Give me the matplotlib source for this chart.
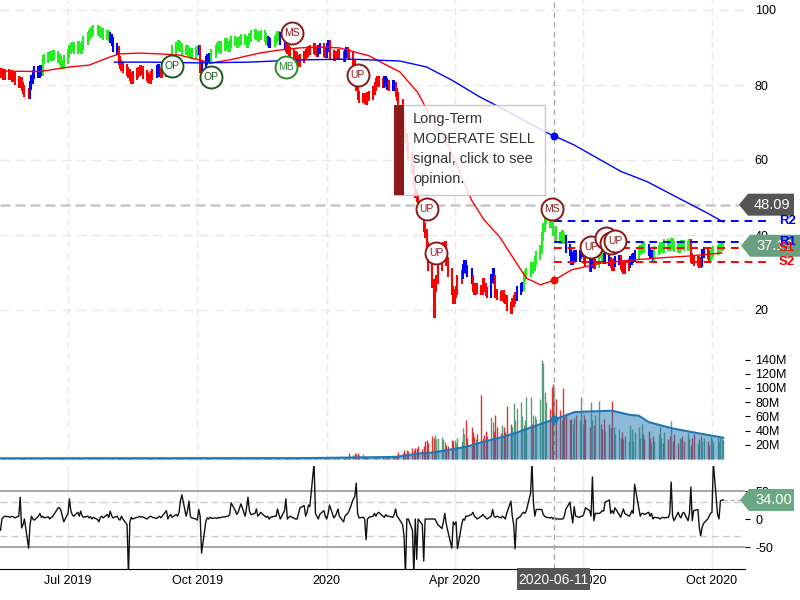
import numpy as np
import pandas as pd
import matplotlib
matplotlib.use('Agg')
import matplotlib.pyplot as plt
import matplotlib.dates as mdates
from matplotlib.patches import Polygon, Rectangle

plt.rcParams['font.family'] = ['Liberation Sans', 'DejaVu Sans']

# ---------------- data ----------------
start_date = '2019-05-14'

close = [
    83.2, 83.0, 82.6, 83.1, 82.4, 82.8, 81.9, 82.3, 81.2, 80.5,
    80.9, 79.6, 78.8, 78.0, 77.4, 79.8, 81.5, 82.8, 83.8, 83.2,
    84.0, 83.5, 86.7, 87.0, 87.5, 88.0, 87.5, 88.2, 88.0, 87.0,
    86.4, 85.6, 85.5, 86.8, 88.5, 89.5, 90.0, 90.3, 89.6, 90.4,
    90.0, 89.5, 90.6, 92.0, 93.0, 93.6, 94.0, 94.6, 94.8, 94.2,
    94.5, 93.7, 93.9, 93.2, 93.6, 93.0, 92.5, 91.5, 90.0, 89.3,
    86.5, 85.5, 85.0, 84.3, 83.6, 83.0, 82.2, 81.5, 82.4, 83.2,
    83.6, 84.2, 83.8, 82.7, 82.3, 81.8, 81.6, 82.5, 83.1, 84.0,
    84.3, 83.4, 83.0, 83.4, 83.9, 84.4, 84.8, 87.0, 89.5, 90.2,
    90.8, 90.4, 90.0, 89.3, 89.6, 89.0, 88.4, 88.7, 88.2, 88.9,
    89.2, 89.5, 84.5, 85.5, 86.5, 87.0, 87.3, 86.8, 88.5, 89.5,
    90.1, 90.5, 89.6, 90.4, 91.2, 90.6, 90.0, 91.0, 92.0, 91.6,
    91.0, 91.5, 92.0, 92.5, 92.0, 91.2, 92.0, 92.8, 93.5, 93.8,
    93.2, 92.8, 93.3, 93.5, 92.8, 92.0, 91.5, 91.0, 91.3, 92.0,
    92.5, 93.3, 93.0, 91.8, 90.7, 89.9, 89.4, 88.9, 88.5, 88.0,
    87.5, 86.8, 86.1, 87.0, 88.0, 88.5, 88.8, 89.2, 89.5, 89.9,
    89.3, 88.8, 89.6, 89.9, 88.8, 88.5, 90.0, 90.7, 88.2, 87.5,
    87.8, 88.0, 88.5, 88.0, 87.4, 88.5, 89.0, 88.4, 88.0, 85.5,
    81.5, 79.5, 77.3, 76.5, 76.8, 76.2, 76.0, 77.0, 77.3, 78.5,
    79.5, 80.8, 81.2, 80.6, 80.5, 81.3, 80.6, 80.0, 79.5, 80.2,
    79.6, 78.1, 77.0, 75.0, 71.5, 68.0, 66.0, 63.5, 61.0, 57.5,
    53.5, 51.0, 50.0, 47.5, 46.0, 42.0, 40.5, 36.8, 31.5, 27.0,
    19.0, 26.0, 28.0, 31.5, 35.2, 36.8, 37.2, 33.0, 30.0, 25.3,
    22.7, 24.5, 25.3, 28.0, 29.5, 31.0, 32.0, 30.8, 30.0, 28.0,
    26.0, 25.3, 26.0, 25.5, 25.3, 27.2, 26.0, 25.0, 24.5, 28.5,
    30.0, 28.0, 24.5, 23.8, 23.5, 24.2, 23.0, 22.7, 20.8, 20.0,
    21.9, 22.8, 23.5, 25.3, 26.0, 26.2, 28.8, 29.5, 30.0, 31.5,
    30.7, 31.5, 33.3, 34.5, 36.0, 39.5, 42.1, 44.0, 44.5, 43.0,
    42.7, 41.0, 41.3, 39.5, 38.7, 40.0, 39.2, 38.7, 36.5, 35.5,
    33.3, 34.2, 34.7, 34.0, 34.7, 35.3, 36.0, 33.5, 32.8, 31.2,
    32.5, 33.0, 32.0, 32.5, 35.5, 35.0, 33.9, 33.5, 33.8, 33.0,
    32.3, 31.7, 32.6, 33.3, 33.5, 31.8, 31.2, 30.8, 31.5, 32.3,
    33.3, 33.8, 34.1, 34.7, 35.8, 36.0, 37.1, 36.8, 36.5, 35.5,
    34.7, 34.7, 34.2, 35.8, 36.0, 36.8, 37.0, 36.5, 37.6, 37.0,
    36.8, 38.1, 37.3, 36.6, 36.5, 37.0, 37.5, 37.4, 36.8, 37.2,
    37.6, 34.0, 33.5, 33.0, 33.3, 32.5, 32.8, 35.0, 35.5, 34.7,
    34.2, 34.7, 35.3, 35.8, 36.0, 36.3, 36.8, 37.0, 37.1,
]

# trend colour of each bar: r = down, g = up, b = neutral
color_runs = [
    ('r', 15), ('b', 7), ('g', 34), ('b', 4), ('r', 19), ('b', 3), ('r', 5),
    ('g', 14), ('b', 1), ('r', 1), ('b', 5), ('g', 28), ('b', 3), ('g', 4),
    ('b', 2), ('r', 17), ('b', 2), ('r', 2), ('b', 2), ('r', 7), ('b', 2),
    ('r', 18), ('b', 3), ('r', 1), ('b', 2), ('r', 34), ('b', 5), ('r', 9),
    ('b', 3), ('r', 11), ('b', 3), ('g', 22), ('b', 9), ('r', 3), ('b', 2),
    ('r', 2), ('g', 3), ('b', 3), ('r', 3), ('b', 2), ('r', 5), ('b', 4),
    ('g', 5), ('b', 4), ('g', 18), ('r', 6), ('b', 2), ('r', 2), ('g', 8),
]

volume_m = [
    1.0, 0.8, 1.2, 0.9, 1.1, 1.0, 0.7, 1.3, 0.9, 1.0,
    1.1, 0.9, 1.2, 1.0, 0.8, 1.0, 1.1, 0.9, 1.2, 1.0,
    0.9, 1.1, 1.0, 0.8, 1.2, 1.0, 0.9, 1.1, 1.0, 0.8,
    1.0, 1.2, 0.9, 1.1, 1.0, 0.8, 1.3, 1.0, 0.9, 1.1,
    1.0, 0.9, 1.2, 1.0, 1.1, 0.8, 1.0, 1.2, 0.9, 1.0,
    1.1, 1.0, 0.9, 1.2, 1.0, 0.8, 1.1, 1.0, 1.3, 0.9,
    1.0, 1.1, 0.9, 1.0, 1.2, 0.8, 1.0, 1.1, 0.9, 1.0,
    1.2, 1.0, 0.9, 1.1, 1.0, 1.3, 0.8, 1.0, 1.1, 0.9,
    1.0, 1.2, 0.9, 1.0, 1.1, 1.0, 0.8, 1.2, 1.0, 0.9,
    1.1, 1.0, 1.2, 0.9, 1.0, 1.1, 0.8, 1.0, 1.2, 1.0,
    0.9, 1.1, 1.5, 1.0, 1.2, 0.9, 1.0, 1.1, 1.0, 0.8,
    1.0, 1.2, 0.9, 1.1, 1.0, 0.8, 1.2, 1.0, 0.9, 1.1,
    1.0, 0.9, 1.1, 1.2, 1.0, 0.8, 1.0, 1.1, 0.9, 1.0,
    1.2, 1.0, 0.9, 1.1, 1.0, 1.2, 0.9, 1.0, 1.1, 1.0,
    0.9, 1.1, 1.0, 1.3, 1.0, 0.9, 1.2, 1.0, 1.1, 0.9,
    1.0, 1.2, 1.0, 0.9, 1.1, 1.0, 1.3, 1.2, 1.0, 1.1,
    1.5, 1.2, 1.0, 2.5, 1.3, 1.1, 1.0, 1.2, 1.4, 1.2,
    1.3, 1.5, 1.2, 1.4, 1.6, 1.3, 1.5, 1.8, 8.0, 6.0,
    9.0, 7.0, 8.0, 6.0, 7.0, 4.0, 3.5, 3.0, 3.0, 2.5,
    3.0, 2.5, 2.5, 2.0, 2.5, 2.0, 2.0, 2.5, 3.0, 2.5,
    3.0, 4.0, 5.0, 10, 8, 12, 9, 13, 11, 15,
    12, 16, 15, 18, 14, 18, 25, 27, 22, 32,
    30, 34, 28, 30, 31, 28, 24, 20, 18, 27,
    25, 27, 22, 30, 26, 43, 35, 55, 30, 45,
    38, 31, 28, 35, 90, 30, 34, 40, 32, 59,
    52, 40, 62, 45, 36, 48, 45, 38, 74, 50,
    45, 79, 55, 72, 80, 60, 48, 55, 87, 87,
    50, 62, 60, 57, 85, 140, 135, 95, 80, 70,
    102, 105, 99, 85, 69, 55, 100, 60, 65, 55,
    57, 50, 58, 62, 55, 87, 50, 62, 57, 45,
    80, 55, 48, 62, 82, 50, 42, 57, 40, 50,
    44, 82, 45, 35, 42, 30, 38, 28, 33, 25,
    48, 42, 25, 38, 45, 30, 50, 35, 28, 40,
    30, 24, 32, 26, 35, 45, 30, 22, 38, 28,
    32, 54, 25, 35, 22, 30, 28, 33, 25, 37,
    28, 20, 30, 35, 22, 28, 33, 25, 30, 26,
    20, 32, 28, 24, 30, 25, 30, 28, 27,
]

oscillator = [
    -20, 0, 3, 5, 4, 3, 5, 4, 2, 5,
    39, -16, -10, 0, -52, -10, 5, 0, -2, 5,
    10, 3, 5, 2, 4, 0, 3, 4, 8, 20,
    20, 15, 5, -5, 10, 36, 15, 8, 5, 12,
    5, 14, 6, 3, 5, 2, 4, 0, 3, -1,
    -5, 3, 5, 2, 8, 3, 14, 6, 2, 5,
    0, -2, 5, 0, -10, -100, -5, 3, 0, 3,
    3, 5, 3, 4, 0, 2, 4, 5, 3, 1,
    3, 5, 2, 5, 15, 0, 5, 8, 3, 8,
    5, 12, 33, 43, 5, 15, 32, 5, 2, 0,
    -2, 17, 5, -61, -5, 2, 0, 3, 1, 2,
    1, 3, 2, 3, 4, 5, 5, 8, 29, 15,
    8, 12, 20, 27, 5, 20, 39, 15, 8, 10,
    18, 5, 8, 12, 5, 3, 5, 0, 3, 5,
    5, 18, 8, 0, 15, 36, 0, 3, 5, 1,
    0, 0, 10, 20, 24, 5, 12, 25, 22, 100,
    10, 5, 0, 8, 15, 5, 0, 10, 25, 2,
    5, 10, 18, 5, -5, 5, 8, 10, 15, 36,
    40, 64, 10, 2, 3, 0, -37, 0, 3, 5,
    10, 5, 10, 12, 5, 3, 8, 5, 5, 3,
    8, 18, 5, 2, -10, -30, -100, 0, 0, -20,
    -100, 0, -72, 0, -10, -75, 0, 0, 0, 0,
    0, 0, -5, -10, -17, -5, 10, -8, -20, -52,
    -5, -10, -5, -53, -10, 0, -2, 5, 5, 8,
    12, 5, 3, 0, 5, 8, 5, 3, 0, 5,
    17, 5, 3, 5, 2, 5, 3, 0, 10, 32,
    5, -10, -53, 0, 5, 10, 12, 10, 15, 46,
    100, 30, 5, 17, 17, 17, 8, 5, 3, 2,
    3, 0, 3, 0, 0, 0, 0, 5, 17, 30,
    10, -7, 22, 5, 3, 5, 5, 10, 20, 15,
    5, 75, -3, 10, 10, 12, 15, 14, 30, 34,
    10, 15, 10, 20, 8, 3, 10, 18, 10, 5,
    8, 15, 10, 62, 20, 5, 10, 10, 8, 12,
    5, 10, 0, 3, 2, 0, 2, 3, 2, 3,
    10, 66, 5, -3, 12, 5, 2, 10, 12, -3,
    10, 57, -3, 15, 17, -15, -30, -15, -8, 0,
    5, 10, 12, 100, 8, 0, 32, 34, 34,
]

red_ma_dates = ['2019-05-14', '2019-06-11', '2019-07-02', '2019-07-16', '2019-07-31',
                '2019-08-07', '2019-08-21', '2019-09-04', '2019-09-18', '2019-10-02',
                '2019-10-11', '2019-10-24', '2019-11-14', '2019-11-28', '2019-12-13',
                '2019-12-27', '2020-01-10', '2020-01-21', '2020-01-31', '2020-02-11',
                '2020-02-22', '2020-03-06', '2020-03-16', '2020-03-28', '2020-04-13',
                '2020-04-22', '2020-05-03', '2020-05-15', '2020-05-22',
                '2020-06-01', '2020-06-11', '2020-06-23', '2020-07-14', '2020-08-04',
                '2020-08-25', '2020-09-15', '2020-10-08']
red_ma_vals = [83.7, 83.6, 84.8, 85.3, 87.5, 88.3, 88.5, 88.3, 88.0, 86.7,
               85.9, 86.7, 88.5, 89.3, 89.9, 90.1, 89.9, 88.8, 87.8, 85.6,
               83.5, 77.9, 70.7, 63.5, 49.3, 44.0, 39.5, 32.5, 28.5,
               26.7, 28.0, 30.7, 32.5, 33.3, 33.9, 34.4, 35.2]

blue_ma_dates = ['2019-08-03', '2019-08-28', '2019-10-02', '2019-11-07', '2019-12-13',
                 '2020-01-17', '2020-02-22', '2020-03-12', '2020-03-30', '2020-04-19',
                 '2020-05-03', '2020-06-06', '2020-06-11', '2020-06-25', '2020-07-28',
                 '2020-08-16', '2020-09-10', '2020-09-26', '2020-10-09']
blue_ma_vals = [86.1, 86.1, 85.9, 86.1, 86.7, 86.9, 86.4, 84.8, 81.3, 76.8,
                74.1, 67.2, 66.4, 64.0, 57.0, 54.2, 49.3, 46.2, 43.5]

vol_ma_dates = ['2019-05-14', '2019-12-13', '2020-01-17', '2020-02-20', '2020-03-07',
                '2020-03-16', '2020-03-28', '2020-04-09', '2020-04-21', '2020-05-03',
                '2020-05-15', '2020-05-26', '2020-06-11', '2020-06-20', '2020-06-25',
                '2020-07-06', '2020-07-22', '2020-08-04', '2020-08-10', '2020-08-17',
                '2020-09-03', '2020-09-22', '2020-10-09']
vol_ma_vals = [1.0, 1.2, 2.0, 3.0, 8.0, 9.0, 13, 17, 24, 30, 37, 45, 56, 62, 66,
               67, 68, 62, 61, 52, 43, 36, 30]

# signal bubbles: (label, date, price, kind)
signals = [
    ('OP', '2019-09-13', 85.1, 'op'),
    ('OP', '2019-10-11', 82.1, 'op'),
    ('MB', '2019-12-03', 84.8, 'mb'),
    ('MS', '2019-12-07', 93.9, 'sell'),
    ('UP', '2020-01-23', 82.7, 'sell'),
    ('UP', '2020-03-12', 46.9, 'sell'),
    ('UP', '2020-03-19', 35.2, 'sell'),
    ('MS', '2020-06-09', 46.9, 'sell'),
    ('UP', '2020-07-07', 36.8, 'sell'),
    ('', '2020-07-18', 39.2, 'sell'),
    ('', '2020-07-21', 37.9, 'sell'),
    ('UP', '2020-07-24', 38.4, 'sell'),
]

levels = [('R2', 43.6, 'blue'), ('R1', 38.1, 'blue'), ('S1', 36.5, 'red'), ('S2', 32.8, 'red')]
ref_price = 48.09
last_price = 37.13
osc_last = 34.00
crosshair_date = '2020-06-11'
cross_red_ma = 28.0
cross_blue_ma = 66.4
cross_vol_ma = 56.0

price_ticks = [20, 40, 60, 80, 100]
vol_ticks = [20, 40, 60, 80, 100, 120, 140]
osc_ticks = [-50, 0, 50]
xtick_dates = ['2019-07-01', '2019-10-01', '2020-01-01', '2020-04-01', '2020-07-01', '2020-10-01']
xtick_labels = ['Jul 2019', 'Oct 2019', '2020', 'Apr 2020', 'Jul 2020', 'Oct 2020']

tooltip_lines = ['Long-Term', 'MODERATE SELL', 'signal, click to see', 'opinion.']

# ---------------- layout helpers ----------------
W, H = 800, 600
def fx(px):
    return px / W
def fy(py):
    return 1 - py / H

fig = plt.figure(figsize=(8, 6), dpi=100)
ax_p = fig.add_axes([0, fy(348), fx(745), 348 / H])
ax_v = fig.add_axes([0, fy(460), fx(745), 110 / H])
ax_o = fig.add_axes([0, fy(569), fx(745), 103 / H])

dates = pd.bdate_range(start_date, periods=len(close))
xd = mdates.date2num(dates)
x_ref = mdates.date2num(pd.Timestamp('2019-07-01'))
ppd = 1.406  # pixels per day
xlim = (x_ref - 68 / ppd, x_ref + (745 - 68) / ppd)
xt = mdates.date2num(pd.to_datetime(xtick_dates))
xc = mdates.date2num(pd.Timestamp(crosshair_date))

for ax in (ax_p, ax_v, ax_o):
    ax.set_xlim(*xlim)
    for s in ax.spines.values():
        s.set_visible(False)
    ax.yaxis.tick_right()
    ax.set_xticks(xt)
    ax.tick_params(axis='x', length=0)

ax_p.set_ylim(100 - 338 / 3.75, 100 + 10 / 3.75)
ax_v.set_ylim(-1 / 0.71, 109 / 0.71)
ax_o.set_ylim(-50 / 0.56, 53 / 0.56)

# grids
for t in xt:
    ax_p.axvline(t, color='#e8e8e8', lw=1, ls=(0, (5, 3)), zorder=0)
    ax_v.axvline(t, color='#e8e8e8', lw=1, ls=(0, (5, 3)), zorder=0)
    ax_o.axvline(t, color='#ececec', lw=1, zorder=0)
for v in price_ticks:
    ax_p.axhline(v, color='#e8e8e8', lw=1, ls=(0, (7, 4)), zorder=0)

# ---------------- price panel ----------------
c = np.array(close)
prev = np.r_[c[0], c[:-1]]
wick = 1.2
hi = np.maximum(prev, c) + wick
lo = np.minimum(prev, c) - wick
codes = ''.join(k * n for k, n in color_runs)
cmap = {'r': '#ff0000', 'g': '#22ee22', 'b': '#0000ff'}
ax_p.vlines(xd, lo, hi, colors=[cmap[k] for k in codes], lw=1.5, zorder=3)

ax_p.axhline(ref_price, color='#c8c8c8', lw=1.8, ls=(0, (4, 2)), zorder=1)

rd = mdates.date2num(pd.to_datetime(red_ma_dates))
bd = mdates.date2num(pd.to_datetime(blue_ma_dates))
ax_p.plot(rd, red_ma_vals, color='#ff0000', lw=1, zorder=4)
ax_p.plot(bd, blue_ma_vals, color='#0000ff', lw=1, zorder=4)

for ax in (ax_p, ax_v, ax_o):
    ax.axvline(xc, color='#aaaaaa', lw=1, ls=(0, (4, 3)), zorder=5)
ax_p.scatter([xc], [cross_red_ma], s=22, color='#ff0000', zorder=6)
ax_p.scatter([xc], [cross_blue_ma], s=22, color='#0000ff', zorder=6)

# support / resistance
lvl_end = xlim[1] + 23 / ppd
for name, val, col in levels:
    ax_p.plot([xc, lvl_end], [val, val], color=col, lw=1.4, ls=(0, (4, 3)),
              zorder=5, clip_on=False)

sig_colors = {'op': '#1e5a1e', 'mb': '#2a8a2a', 'sell': '#8b1a1a'}
for lab, d, p, kind in signals:
    xs = mdates.date2num(pd.Timestamp(d))
    ax_p.scatter([xs], [p], s=250, facecolor='white', edgecolor=sig_colors[kind],
                 linewidth=1.4, zorder=7)
    if lab:
        ax_p.text(xs, p, lab, ha='center', va='center', fontsize=7.5,
                  color=sig_colors[kind], zorder=8)

ax_p.set_yticks(price_ticks)
ax_p.set_yticklabels([str(v) for v in price_ticks])
ax_p.tick_params(axis='y', length=0, pad=7, labelsize=9, colors='#000000')
ax_p.tick_params(axis='x', labelbottom=False)

# ---------------- volume panel ----------------
vol = np.array(volume_m, dtype=float)
vcol = ['#e03030' if c[i] < prev[i] else '#5a9e7c' for i in range(len(c))]
ax_v.vlines(xd, 0, vol, colors=vcol, lw=1.0, zorder=2)
vd = mdates.date2num(pd.to_datetime(vol_ma_dates))
ax_v.fill_between(vd, 0, vol_ma_vals, color='#1f77b4', alpha=0.5, lw=0, zorder=3)
ax_v.plot(vd, vol_ma_vals, color='#1f77b4', lw=1.5, zorder=4)
ax_v.scatter([xc], [cross_vol_ma], s=22, color='#1f77b4', zorder=6)
ax_v.set_yticks(vol_ticks)
ax_v.set_yticklabels([f'{v}M' for v in vol_ticks])
ax_v.tick_params(axis='y', length=3.5, width=0.8, pad=4, labelsize=9)
ax_v.tick_params(axis='x', labelbottom=False)

# ---------------- oscillator panel ----------------
for v in (50, -50):
    ax_o.axhline(v, color='#aaaaaa', lw=1.5, zorder=1)
for v in (30, -30):
    ax_o.axhline(v, color='#cccccc', lw=1, ls=(0, (5, 3)), zorder=1)
ax_o.plot(xd, oscillator, color='#111111', lw=1, zorder=3)
ax_o.plot([xd[-1], xlim[1]], [osc_last, osc_last], color='#bbbbbb', lw=1,
          ls=(0, (3, 2)), zorder=2, clip_on=False)
ax_o.spines['bottom'].set_visible(True)
ax_o.spines['bottom'].set_color('#000000')
ax_o.set_yticks(osc_ticks)
ax_o.set_yticklabels([str(v) for v in osc_ticks])
ax_o.tick_params(axis='y', length=3.5, width=0.8, pad=4, labelsize=9)
ax_o.set_xticklabels(xtick_labels)
ax_o.tick_params(axis='x', length=0, pad=4, labelsize=9)

# ---------------- overlay annotations ----------------
def fig_y(ax, v):
    return ax.transData.transform((ax.get_xlim()[0], v))[1] / fig.bbox.height

def tag(x_tip, yf, text, fc, x_end=796, text_dx=15):
    h = 11 / H
    pts = [(fx(x_tip), yf), (fx(x_tip + 9), yf + h), (fx(x_end), yf + h),
           (fx(x_end), yf - h), (fx(x_tip + 9), yf - h)]
    fig.patches.append(Polygon(pts, closed=True, transform=fig.transFigure,
                               facecolor=fc, edgecolor='none', zorder=10))
    fig.text(fx(x_tip + text_dx), yf, text, color='white', fontsize=10.5,
             va='center', ha='left', zorder=11)

tag(739, fig_y(ax_p, ref_price), f'{ref_price:.2f}', '#555555', x_end=794)
tag(741, fig_y(ax_p, last_price), f'{last_price:.2f}', '#6a9f80', x_end=805)
tag(740, fig_y(ax_o, osc_last), f'{osc_last:.2f}', '#6aa884', x_end=794)

for name, val, col in levels:
    fig.text(fx(779), fig_y(ax_p, val), name, color=col, fontsize=9.5,
             fontweight='bold', va='center', ha='left', zorder=12)

# crosshair date label
fig.patches.append(Rectangle((fx(517), fy(590)), 73 / W, 22 / H, transform=fig.transFigure,
                             facecolor='#555555', edgecolor='none', zorder=10))
fig.text(fx(553.5), fy(579.5), crosshair_date, color='white', fontsize=10,
         ha='center', va='center', zorder=11)

# tooltip
fig.patches.append(Rectangle((fx(394), fy(195)), 151 / W, 90 / H, transform=fig.transFigure,
                             facecolor=(1, 1, 1, 0.85), edgecolor='#c8c8c8', lw=1, zorder=10))
fig.patches.append(Rectangle((fx(394), fy(195)), 10 / W, 90 / H, transform=fig.transFigure,
                             facecolor='#8b1a1a', edgecolor='none', zorder=11))
for k, line in enumerate(tooltip_lines):
    fig.text(fx(413), fy(119 + 20 * k), line, color='#333333', fontsize=10.5,
             ha='left', va='center', zorder=12)

fig.savefig('out.png', dpi=100)
